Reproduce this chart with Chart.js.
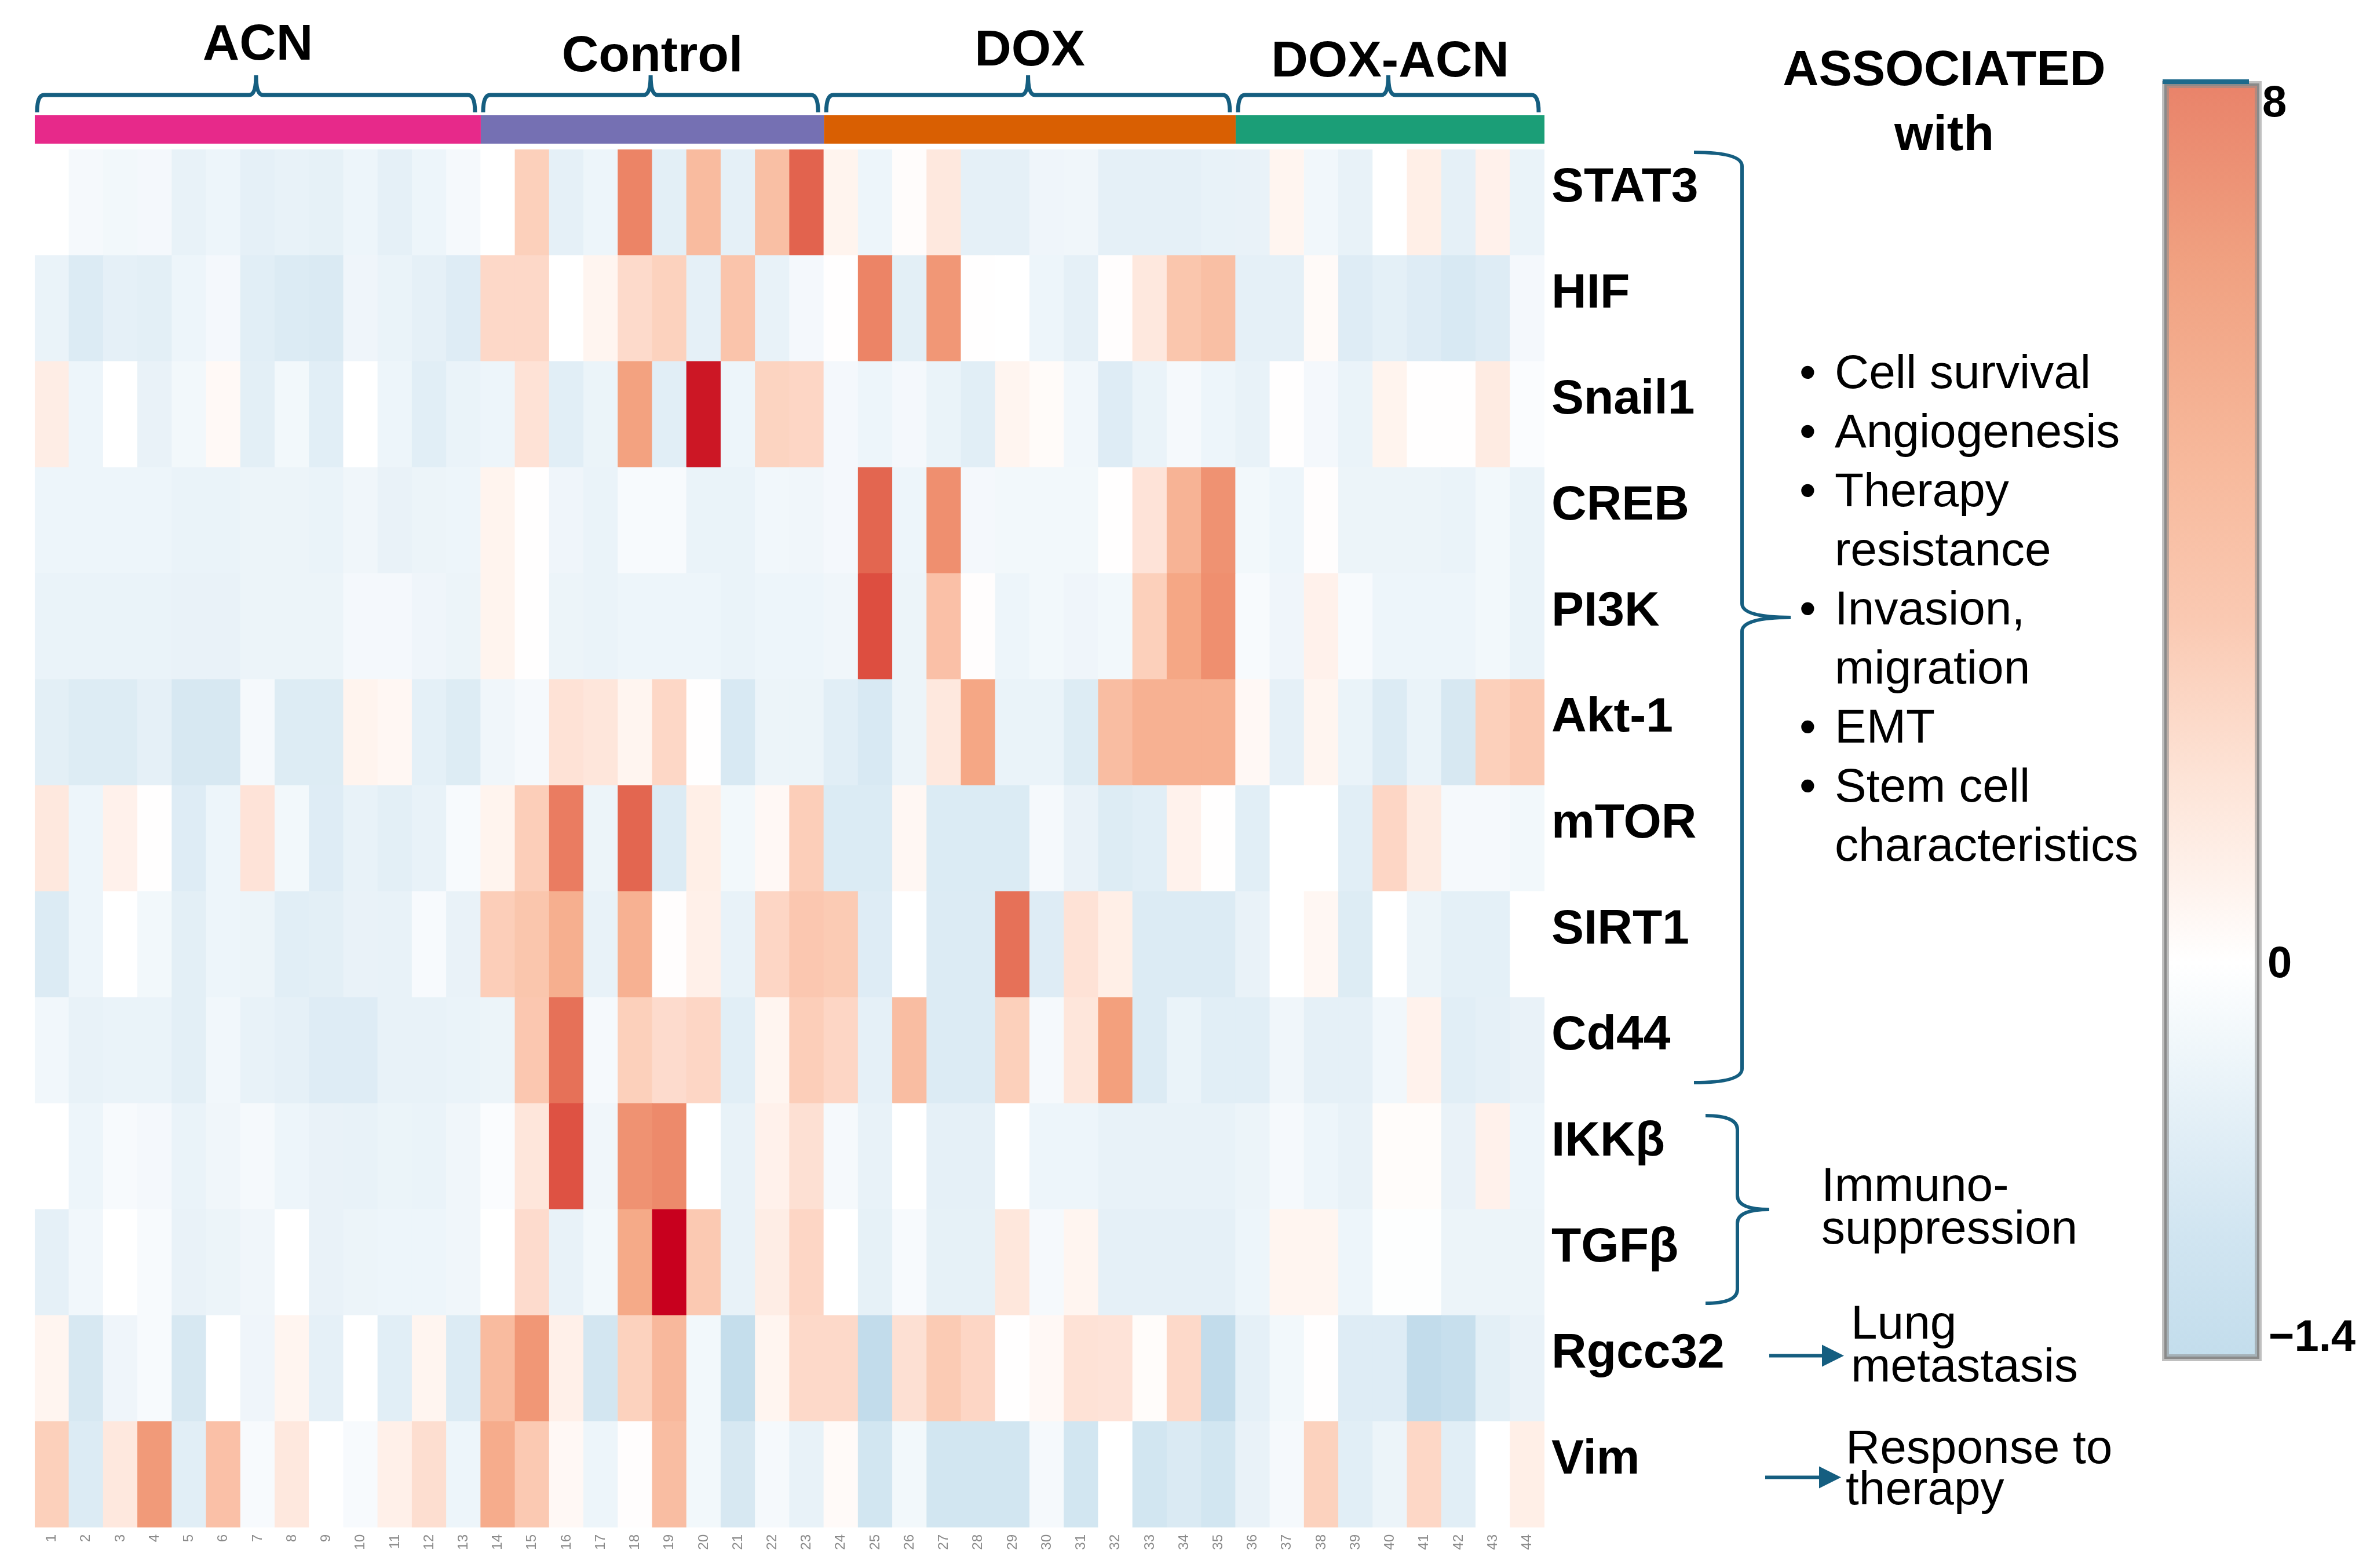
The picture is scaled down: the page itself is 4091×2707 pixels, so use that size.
<!DOCTYPE html>
<html>
<head>
<meta charset="utf-8">
<title>Gene expression heatmap</title>
<script src="https://cdn.jsdelivr.net/npm/chart.js@4.4.1/dist/chart.umd.min.js"></script>
<style>
  html, body { margin: 0; padding: 0; background: #fff; }
  #wrap { width: 4091px; height: 2707px; }
</style>
</head>
<body>
<div id="wrap"><canvas id="heat"></canvas></div>
<script>
// samples along the bottom
const samples = ['1','2','3','4','5','6','7','8','9','10','11','12','13','14','15','16','17','18','19','20','21','22',
  '23','24','25','26','27','28','29','30','31','32','33','34','35','36','37','38','39','40','41','42','43','44'];
const genes = ['STAT3', 'HIF', 'Snail1', 'CREB', 'PI3K', 'Akt-1', 'mTOR', 'SIRT1', 'Cd44', 'IKKβ', 'TGFβ', 'Rgcc32', 'Vim'];

const groups = ['ACN', 'Control', 'DOX', 'DOX-ACN'];
const groupSizes = [13, 10, 12, 9];
const groupColors = ['#E7298A', '#7570B3', '#D95F02', '#1B9E77'];

// expression values, one array per gene (44 samples)
const stat3 = [0,-0.1,-0.15,-0.12,-0.35,-0.25,-0.4,-0.35,-0.38,-0.25, -0.4,-0.25,-0.1,0,1.9,-0.4,-0.25,5.2,-0.45,3.1,
  -0.4,2.9,6.1,0.35,-0.25,0.08,0.8,-0.4,-0.4,-0.22, -0.2,-0.4,-0.4,-0.4,-0.35,-0.32,0.3,-0.18,-0.35,0, 0.55,-0.4,0.45,-0.3];
const hif = [-0.3,-0.6,-0.4,-0.45,-0.25,-0.12,-0.5,-0.6,-0.65,-0.22, -0.3,-0.4,-0.55,1.5,1.5,0,0.3,1.4,1.8,-0.4,
  2.6,-0.35,-0.12,0.02,5.2,-0.45,4.5,0.02,0,-0.25, -0.4,0.05,0.8,2.5,2.9,-0.4,-0.4,0.15,-0.55,-0.42, -0.55,-0.68,-0.55,-0.12];
const snail1 = [0.6,-0.25,0,-0.32,-0.15,0.18,-0.45,-0.15,-0.5,0, -0.25,-0.5,-0.3,-0.25,1.05,-0.5,-0.28,4.1,-0.5,7.8,
  -0.25,1.7,1.6,-0.12,-0.25,-0.12,-0.3,-0.5,0.3,0.12, -0.18,-0.55,-0.3,-0.1,-0.25,-0.35,0.03,-0.12,-0.3,0.35, 0.02,0.03,0.7,-0.05];
const creb = [-0.25,-0.25,-0.25,-0.25,-0.3,-0.3,-0.27,-0.27,-0.3,-0.2, -0.32,-0.27,-0.25,0.35,0.02,-0.22,-0.3,-0.08,-0.08,-0.3,
  -0.3,-0.18,-0.2,-0.12,6.0,-0.25,4.8,-0.12,-0.15,-0.15, -0.15,0.02,1.0,3.4,4.7,-0.15,-0.25,0.05,-0.27,-0.27, -0.27,-0.3,-0.15,-0.3];
const pi3k = [-0.3,-0.3,-0.3,-0.3,-0.32,-0.32,-0.27,-0.27,-0.27,-0.12, -0.12,-0.22,-0.27,0.35,0.02,-0.27,-0.3,-0.25,-0.25,-0.25,
  -0.3,-0.25,-0.25,-0.2,6.7,-0.27,2.8,0.05,-0.25,-0.15, -0.22,-0.15,1.9,3.9,4.8,-0.08,-0.22,0.45,-0.08,-0.25, -0.25,-0.25,-0.15,-0.3];
const akt1 = [-0.45,-0.58,-0.58,-0.4,-0.72,-0.72,-0.1,-0.58,-0.58,0.35, 0.25,-0.42,-0.58,-0.2,-0.1,1.05,0.9,0.3,1.55,0.02,
  -0.7,-0.27,-0.27,-0.5,-0.7,-0.27,0.8,3.9,-0.3,-0.3, -0.58,3.0,3.5,3.5,3.5,0.2,-0.4,0.3,-0.3,-0.6, -0.3,-0.72,1.9,2.3];
const mtor = [0.8,-0.25,0.45,0.02,-0.55,-0.25,1.0,-0.15,-0.55,-0.35, -0.45,-0.35,-0.08,0.35,2.0,5.4,-0.27,6.0,-0.6,0.55,
  -0.15,0.2,2.0,-0.62,-0.62,0.25,-0.62,-0.62,-0.62,-0.1, -0.32,-0.58,-0.5,0.4,0.03,-0.5,0,0,-0.5,1.6, 0.7,-0.1,-0.1,-0.15];
const sirt1 = [-0.6,-0.25,0,-0.15,-0.45,-0.25,-0.27,-0.5,-0.45,-0.32, -0.35,-0.08,-0.32,2.0,2.5,3.6,-0.35,3.5,0.05,0.5,
  -0.35,1.6,2.4,2.2,-0.55,0,-0.6,-0.6,5.7,-0.55, 1.05,0.55,-0.6,-0.6,-0.6,-0.32,0,0.25,-0.58,0, -0.27,-0.42,-0.42,0];
const cd44 = [-0.18,-0.35,-0.3,-0.3,-0.45,-0.18,-0.35,-0.4,-0.55,-0.55, -0.35,-0.35,-0.3,-0.27,2.4,5.7,-0.1,1.9,1.35,1.6,
  -0.5,0.3,2.0,1.6,-0.4,3.0,-0.6,-0.6,1.9,-0.1, 0.9,4.2,-0.6,-0.3,-0.5,-0.5,-0.2,-0.4,-0.4,-0.18, 0.4,-0.5,-0.4,-0.32];
const ikkb = [0,-0.25,-0.08,-0.12,-0.3,-0.2,-0.1,-0.25,-0.32,-0.35, -0.28,-0.3,-0.2,-0.05,0.9,6.6,-0.2,4.7,5.0,0,
  -0.35,0.45,1.15,-0.1,-0.35,0,-0.4,-0.4,0,-0.25, -0.25,-0.35,-0.35,-0.35,-0.35,-0.27,-0.1,-0.25,-0.35,0.1, 0.1,-0.32,0.45,-0.25];
const tgfb = [-0.4,-0.18,0,-0.08,-0.32,-0.27,-0.2,0,-0.32,-0.27, -0.25,-0.25,-0.2,0,1.35,-0.35,-0.15,3.8,8,2.3,
  -0.35,0.6,1.6,0,-0.38,-0.08,-0.38,-0.38,0.85,-0.1, 0.3,-0.4,-0.4,-0.4,-0.4,-0.25,0.3,0.3,-0.25,-0.02, -0.02,-0.27,-0.27,-0.27];
const rgcc32 = [0.3,-0.72,-0.22,-0.08,-0.72,0,-0.22,0.3,-0.4,0, -0.5,0.3,-0.6,3.1,4.5,0.5,-0.8,1.8,3.2,-0.15,
  -1.2,0.3,1.45,1.45,-1.3,1.15,2.2,1.6,0.03,0.2, 1.05,1.0,0.1,1.45,-1.3,-0.4,-0.15,0.02,-0.55,-0.55, -1.3,-1.15,-0.45,-0.32];
const vim = [1.9,-0.6,0.8,4.4,-0.5,2.8,-0.08,0.8,0,-0.08, 0.5,1.25,-0.25,3.7,2.3,0.2,-0.25,0.05,3.0,-0.15,
  -0.72,-0.1,-0.35,0.15,-0.82,-0.15,-0.82,-0.82,-0.82,-0.1, -0.82,0,-0.82,-0.65,-0.82,-0.32,-0.1,1.8,-0.5,-0.27, 1.55,-0.5,0,0.55];

const rows = [stat3, hif, snail1, creb, pi3k, akt1, mtor, sirt1, cd44, ikkb, tgfb, rgcc32, vim];

// colour bar ticks
const scaleTicks = ['8', '0', '\u22121.4'];

const notes = [
  ['•', 'Cell survival'], ['•', 'Angiogenesis'], ['•', 'Therapy'], ['', 'resistance'],
  ['•', 'Invasion,'], ['', 'migration'], ['•', 'EMT'], ['•', 'Stem cell'], ['', 'characteristics']
];

const FONT = "'Liberation Sans', Arial, sans-serif";
const TEAL = '#155E80';

// blue - white - red colour ramp
const ramp = [
  [-1.4, 190, 218, 234], [-0.8, 211, 230, 241], [-0.4, 229, 240, 247], [-0.1, 245, 249, 252],
  [0, 255, 255, 255], [0.3, 255, 245, 240], [0.8, 254, 232, 222], [1.4, 253, 218, 203],
  [1.9, 252, 208, 187], [3, 249, 189, 162], [4, 244, 165, 130], [5.2, 236, 132, 102],
  [6, 227, 102, 80], [6.8, 220, 75, 62], [7.8, 204, 23, 37], [8, 200, 0, 30]
];
function cellColour(v) {
  if (v <= ramp[0][0]) return `rgb(${ramp[0][1]},${ramp[0][2]},${ramp[0][3]})`;
  for (let i = 1; i < ramp.length; i++) {
    if (v <= ramp[i][0]) {
      const a = ramp[i - 1], b = ramp[i];
      const t = (v - a[0]) / (b[0] - a[0]);
      const c = [1, 2, 3].map(k => Math.round(a[k] + (b[k] - a[k]) * t));
      return `rgb(${c[0]},${c[1]},${c[2]})`;
    }
  }
  const l = ramp[ramp.length - 1];
  return `rgb(${l[1]},${l[2]},${l[3]})`;
}

// bottom row first so that STAT3 ends up on top of the stack
const datasets = rows.slice().reverse().map((vals, i) => ({
  label: genes[genes.length - 1 - i],
  data: vals.map(() => 1),
  backgroundColor: vals.map(cellColour),
  borderWidth: 0,
  barPercentage: 1,
  categoryPercentage: 1,
  inflateAmount: 0.6
}));

function topBrace(ctx, x0, x1, yLine, yEnd, yTip) {
  const xm = (x0 + x1) / 2, r = 12;
  ctx.beginPath();
  ctx.moveTo(x0, yEnd);
  ctx.quadraticCurveTo(x0, yLine, x0 + r, yLine);
  ctx.lineTo(xm - r, yLine);
  ctx.quadraticCurveTo(xm, yLine, xm, yTip);
  ctx.quadraticCurveTo(xm, yLine, xm + r, yLine);
  ctx.lineTo(x1 - r, yLine);
  ctx.quadraticCurveTo(x1, yLine, x1, yEnd);
  ctx.stroke();
}

function sideBrace(ctx, xL, xV, xTip, yTop, yBot) {
  const ym = (yTop + yBot) / 2, r = 24;
  ctx.beginPath();
  ctx.moveTo(xL, yTop);
  ctx.quadraticCurveTo(xV, yTop, xV, yTop + r);
  ctx.lineTo(xV, ym - r);
  ctx.quadraticCurveTo(xV, ym, xTip, ym);
  ctx.quadraticCurveTo(xV, ym, xV, ym + r);
  ctx.lineTo(xV, yBot - r);
  ctx.quadraticCurveTo(xV, yBot, xL, yBot);
  ctx.stroke();
}

function arrow(ctx, x0, x1, y) {
  ctx.beginPath();
  ctx.moveTo(x0, y);
  ctx.lineTo(x1 - 30, y);
  ctx.stroke();
  ctx.beginPath();
  ctx.moveTo(x1, y);
  ctx.lineTo(x1 - 38, y - 19);
  ctx.lineTo(x1 - 38, y + 19);
  ctx.closePath();
  ctx.fill();
}

const annotations = {
  id: 'annotations',
  afterDraw(chart) {
    const ctx = chart.ctx;
    const x = chart.scales.x, y = chart.scales.y;
    const half = (x.getPixelForValue(1) - x.getPixelForValue(0)) / 2;
    ctx.save();

    // group colour strip, braces and names
    const labelBase = [103, 123, 113, 132];
    let start = 0;
    groups.forEach((g, i) => {
      const end = start + groupSizes[i] - 1;
      const x0 = x.getPixelForValue(start) - half;
      const x1 = x.getPixelForValue(end) + half;
      ctx.fillStyle = groupColors[i];
      ctx.fillRect(x0, 199, x1 - x0, 49);
      ctx.strokeStyle = TEAL;
      ctx.lineWidth = 7;
      topBrace(ctx, x0 + 4, x1 - 10, 164, 194, 130);
      ctx.fillStyle = '#000';
      ctx.font = `bold 88px ${FONT}`;
      ctx.textAlign = 'center';
      ctx.textBaseline = 'alphabetic';
      ctx.fillText(g, (x0 + x1) / 2, labelBase[i]);
      start = end + 1;
    });

    // braces on the right
    ctx.strokeStyle = TEAL;
    ctx.fillStyle = TEAL;
    ctx.lineWidth = 6;
    sideBrace(ctx, 2924, 3007, 3091, y.getPixelForValue(13) + 5, y.getPixelForValue(4) - 36);
    sideBrace(ctx, 2944, 2999, 3054, y.getPixelForValue(4) + 21, y.getPixelForValue(2) - 21);
    arrow(ctx, 3054, 3183, y.getPixelForValue(1.5) - 22);
    arrow(ctx, 3047, 3178, y.getPixelForValue(0.5) + 5);

    // text blocks
    ctx.fillStyle = '#000';
    ctx.textAlign = 'center';
    ctx.font = `bold 86px ${FONT}`;
    ctx.fillText('ASSOCIATED', 3356, 147);
    ctx.fillText('with', 3356, 259);

    ctx.textAlign = 'left';
    ctx.font = `82px ${FONT}`;
    notes.forEach((n, i) => {
      const by = 670 + i * 102;
      if (n[0]) ctx.fillText(n[0], 3106, by);
      ctx.fillText(n[1], 3167, by);
    });
    ctx.fillText('Immuno-', 3144, 2073);
    ctx.fillText('suppression', 3144, 2147);
    ctx.fillText('Lung', 3195, 2311);
    ctx.fillText('metastasis', 3195, 2385);
    ctx.fillText('Response to', 3186, 2526);
    ctx.fillText('therapy', 3186, 2597);

    // colour bar
    const cx0 = 3738, cx1 = 3898, cy0 = 146, cy1 = 2344;
    const grad = ctx.createLinearGradient(0, cy0, 0, cy1);
    const at = yy => (yy - cy0) / (cy1 - cy0);
    grad.addColorStop(0, '#E9836A');
    grad.addColorStop(at(446), '#F0A080');
    grad.addColorStop(at(803), '#F7B99C');
    grad.addColorStop(at(1071), '#FAC9B2');
    grad.addColorStop(at(1339), '#FDE3D6');
    grad.addColorStop(at(1523), '#FEF2EC');
    grad.addColorStop(at(1662), '#FFFFFF');
    grad.addColorStop(at(1783), '#F2F8FB');
    grad.addColorStop(at(1956), '#E1EEF6');
    grad.addColorStop(at(2129), '#D1E5F1');
    grad.addColorStop(1, '#C3DDEC');
    ctx.fillStyle = grad;
    ctx.fillRect(cx0, cy0, cx1 - cx0, cy1 - cy0);
    ctx.strokeStyle = 'rgba(140,140,140,0.55)';
    ctx.lineWidth = 12;
    ctx.strokeRect(cx0, cy0, cx1 - cx0, cy1 - cy0);
    ctx.strokeStyle = '#8a8a8a';
    ctx.lineWidth = 4;
    ctx.strokeRect(cx0, cy0, cx1 - cx0, cy1 - cy0);
    ctx.strokeStyle = '#1D6A8C';
    ctx.lineWidth = 8;
    ctx.beginPath();
    ctx.moveTo(3733, 141);
    ctx.lineTo(3882, 141);
    ctx.stroke();

    ctx.fillStyle = '#000';
    ctx.font = `bold 76px ${FONT}`;
    ctx.textBaseline = 'middle';
    ctx.fillText(scaleTicks[0], 3905, 180);
    ctx.fillText(scaleTicks[1], 3914, 1666);
    ctx.fillText(scaleTicks[2], 3916, 2311);

    ctx.restore();
  }
};

new Chart(document.getElementById('heat'), {
  type: 'bar',
  data: { labels: samples, datasets },
  options: {
    responsive: true,
    maintainAspectRatio: false,
    devicePixelRatio: 1,
    animation: false,
    layout: { padding: { left: 60, top: 258, right: 0, bottom: 0 } },
    plugins: {
      legend: { display: false },
      tooltip: { enabled: false }
    },
    scales: {
      x: {
        stacked: true,
        grid: { display: false },
        border: { display: false },
        ticks: {
          autoSkip: false,
          minRotation: 90,
          maxRotation: 90,
          padding: 4,
          color: '#8a8a8a',
          font: { family: FONT, size: 24 }
        },
        afterFit: s => { s.height = 70; }
      },
      y: {
        stacked: true,
        min: 0,
        max: 13,
        position: 'right',
        grid: { display: false },
        border: { display: false },
        afterBuildTicks: s => { s.ticks = genes.map((g, i) => ({ value: 12.5 - i })); },
        ticks: {
          padding: 4,
          labelOffset: -25,
          color: '#000',
          font: { family: FONT, size: 84, weight: 'bold' },
          callback: v => genes[Math.round(12.5 - v)]
        },
        afterFit: s => { s.width = 1425; }
      }
    }
  },
  plugins: [annotations]
});
</script>
</body>
</html>
